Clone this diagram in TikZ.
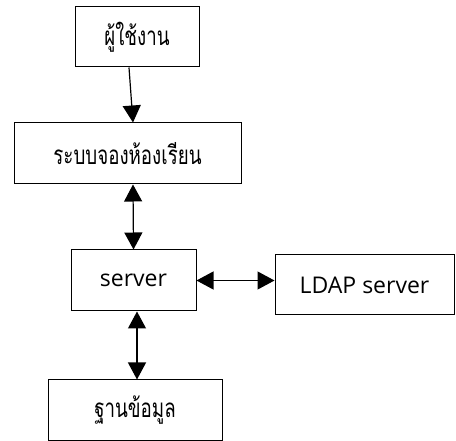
\documentclass[tikz,border=0pt]{standalone}
\usepackage{fontspec}
\newfontfamily\thaifont[Script=Thai,FakeStretch=0.72]{Loma}
\newfontfamily\latinfont{Open Sans}
\usetikzlibrary{arrows.meta}
\tikzset{
  box/.style={draw, line width=1pt, inner sep=0pt},
  thai/.style={font=\thaifont\fontsize{26}{30}\selectfont},
  latin/.style={font=\latinfont\fontsize{23}{27}\selectfont},
  head/.tip={Triangle[width=18pt,length=17pt]},
  link/.style={line width=1.2pt, -head},
  dlink/.style={line width=1.2pt, head-head},
}

\begin{document}
\begin{tikzpicture}[x=1pt,y=-1pt]
        \useasboundingbox (0,0) rectangle (456,441);
        \node[box, thai, minimum width=124pt, minimum height=60pt] (user) at (137,37) {ผู้ใช้งาน};
        \node[box, thai, minimum width=227pt, minimum height=61pt] (booking) at (127.5,153.5) {ระบบจองห้องเรียน};
        \node[box, latin, minimum width=125pt, minimum height=61pt] (server) at (133.5,280.5) {server};
        \node[box, latin, minimum width=179pt, minimum height=60pt] (ldap) at (364.5,285) {LDAP server};
        \node[box, thai, minimum width=174pt, minimum height=60pt] (db) at (135,410) {ฐานข้อมูล};
        \draw[link] ([xshift=-8pt]user.south) -- ([xshift=5.5pt]booking.north);
        \draw[dlink] ([xshift=5.5pt]booking.south) -- (server.north);
        \draw[dlink] (server.east) -- (server.east -| ldap.west);
        \draw[dlink] ([xshift=3.5pt]server.south) -- ([xshift=2pt]db.north);
    \end{tikzpicture}
\end{document}
